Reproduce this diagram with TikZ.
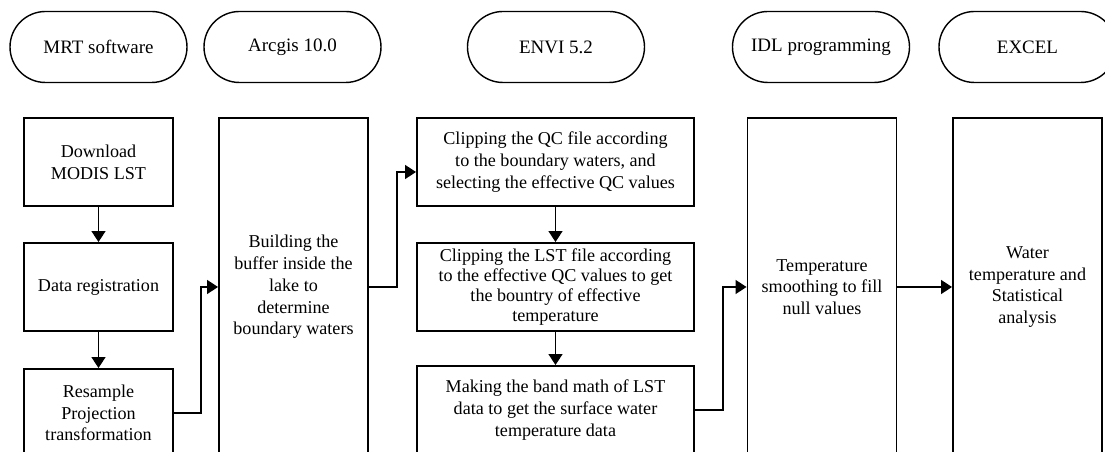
\documentclass[tikz,border=0pt]{standalone}
\usepackage{fontspec}
\setmainfont{Liberation Serif}
\usetikzlibrary{arrows.meta}

\tikzset{
	tool/.style={rectangle, draw=black, line width=0.8pt, rounded corners=0.71cm, minimum width=3.54cm, minimum height=1.42cm, font=\fontsize{10.8}{13}\selectfont},
	stepbox/.style={rectangle, draw=black, line width=1.1pt, minimum width=2.98cm, minimum height=1.76cm, align=center, font=\fontsize{10.3}{12.4}\selectfont},
	flow/.style={draw=black, line width=0.8pt, -{Triangle[length=0.22cm, width=0.28cm]}}
}

\begin{document}
\begin{tikzpicture}

\useasboundingbox (0, 0) rectangle (22.1, 9.04);
\clip (0, 0) rectangle (22.1, 9.04);

\node (mrt) at (1.97, 8.1) [tool] {MRT software};
\node (arcgis) at (5.85, 8.1) [tool] {Arcgis 10.0};
\node (envi) at (11.12, 8.1) [tool] {ENVI 5.2};
\node (idl) at (16.42, 8.1) [tool] {IDL programming};
\node (excel) at (20.55, 8.1) [tool] {EXCEL};

\node (download) at (1.97, 5.8) [stepbox] {Download\\MODIS LST};
\node (register) at (1.97, 3.3) [stepbox] {Data registration};
\node (resample) at (1.97, 0.78) [stepbox] {Resample\\Projection\\transformation};

\node (buffer) at (5.87, 3.3) [stepbox, minimum height=6.76cm] {Building the\\buffer inside the\\lake to\\determine\\boundary waters};

\node (clipqc) at (11.11, 5.8) [stepbox, minimum width=5.54cm] {Clipping the QC file according\\to the boundary waters, and\\selecting the effective QC values};
\node (cliplst) at (11.11, 3.3) [stepbox, minimum width=5.54cm, font=\fontsize{10.3}{11.3}\selectfont] {Clipping the LST file according\\to the effective QC values to get\\the bountry of effective\\temperature};
\node (bandmath) at (11.11, 0.84) [stepbox, minimum width=5.54cm] {Making the band math of LST\\data to get the surface water\\temperature data};

\node (smooth) at (16.44, 3.3) [stepbox, minimum height=6.76cm] {Temperature\\smoothing to fill\\null values};
\node (stats) at (20.55, 3.3) [stepbox, minimum height=6.76cm] {Water\\temperature and\\Statistical\\analysis};

\draw[flow] (download) -- (register);
\draw[flow] (register) -- (resample);
\draw[flow] (resample.east) -- ++(0.54, 0) |- (buffer.west);
\draw[flow] (buffer.east) -- ++(0.56, 0) |- ([yshift=-0.2cm]clipqc.west);
\draw[flow] (clipqc) -- (cliplst);
\draw[flow] (cliplst) -- (bandmath);
\draw[flow] (bandmath.east) -- ++(0.56, 0) |- (smooth.west);
\draw[flow] (smooth) -- (stats);

\end{tikzpicture}
\end{document}
